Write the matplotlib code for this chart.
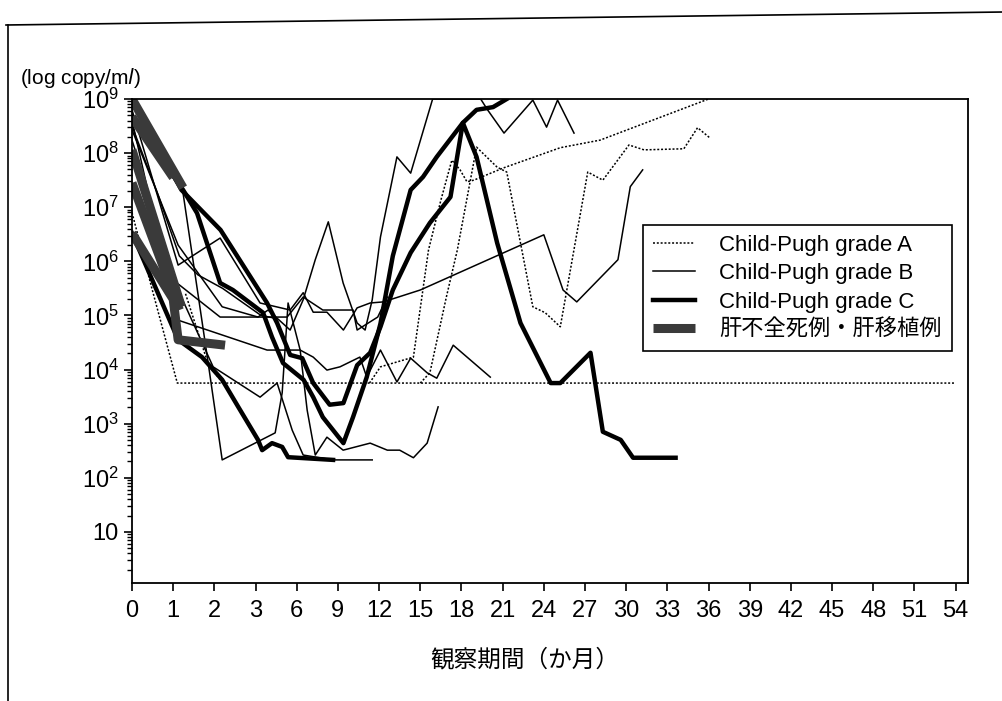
import numpy as np
import matplotlib.pyplot as plt
from matplotlib.lines import Line2D
from matplotlib.ticker import LogLocator, NullFormatter, NullLocator

plt.rcParams['font.family'] = ['Liberation Sans', 'Noto Sans CJK JP']

# months after start / log10(copies per ml)
A1_m = [0, 0.5, 1.1, 54]
A1_v = [6.9, 5.45, 3.75, 3.75]
A2_m = [11.3, 12.1, 14.5, 15.6, 16.5, 17.3, 17.9, 18.4, 18.9, 21.1, 25.2, 28.1, 36.0]
A2_v = [3.75, 4.05, 4.23, 6.21, 7.13, 7.87, 7.69, 7.47, 7.50, 7.73, 8.10, 8.24, 9.0]
A3_m = [15.0, 15.7, 16.9, 17.7, 19.1, 20.6, 21.3, 23.2, 24.1, 25.2, 27.2, 28.3, 30.2, 31.3, 34.2, 35.2, 36.1]
A3_v = [3.75, 3.94, 5.34, 6.21, 8.11, 7.74, 7.65, 5.16, 5.05, 4.79, 7.65, 7.50, 8.15, 8.06, 8.08, 8.47, 8.28]
A4_m = [1.3, 1.85, 2.2]
A4_v = [5.4, 4.1, 3.75]

B1_m = [0, 1.24, 1.85, 2.19, 4.43, 4.94, 5.37, 6.25, 6.76, 7.35, 8.2, 9.38, 11.35, 12.6, 13.5, 14.5, 15.5, 16.3]
B1_v = [8.98, 7.26, 4.12, 2.33, 2.83, 3.57, 5.23, 4.36, 3.25, 2.42, 2.75, 2.51, 2.64, 2.51, 2.51, 2.37, 2.64, 3.31]
B2_m = [0, 1.12, 2.19, 3.18, 3.91, 5.52, 6.47, 7.35, 8.3, 9.38, 10.4, 10.98, 11.5, 12.1, 13.3, 14.3,
        15.9, 19.4, 19.9, 21.1, 23.2, 24.2, 25.0, 26.2]
B2_v = [8.43, 6.30, 5.16, 4.97, 5.10, 4.73, 5.29, 6.03, 6.73, 5.60, 4.86, 4.73, 5.29, 6.45, 7.93, 7.63,
        9.0, 9.0, 8.80, 8.37, 8.98, 8.48, 8.98, 8.37]
B3_m = [0, 1.12, 2.14, 3.33, 5.52, 6.47, 7.2, 8.2, 9.4, 10.4, 11.35, 12.3, 15.0, 24.0, 25.4, 26.4, 29.4, 30.3, 31.2]
B3_v = [8.80, 5.93, 6.43, 5.23, 5.10, 5.42, 5.06, 5.06, 4.73, 5.14, 5.23, 5.25, 5.47, 6.49, 5.47, 5.25, 6.03, 7.38, 7.69]
B4_m = [0, 0.6, 1.15, 1.6, 2.2, 3.4, 4.4]
B4_v = [8.5, 7.3, 6.1, 5.75, 5.5, 5.0, 4.95]
B5_m = [0, 1.09, 3.84, 6.25, 7.2, 8.2, 9.15, 10.6, 11.1, 12.1, 13.3, 14.3, 15.5, 16.2, 17.4, 20.1]
B5_v = [8.61, 4.92, 4.36, 4.36, 4.23, 3.99, 4.05, 4.23, 3.86, 4.36, 3.77, 4.21, 3.94, 3.84, 4.45, 3.86]
B6_m = [0, 1.09, 2.14, 3.55, 5.3, 6.47, 7.9, 10.1, 10.4, 11.9, 12.6]
B6_v = [8.24, 5.60, 4.97, 4.97, 4.97, 5.34, 5.10, 5.10, 4.73, 4.97, 5.34]
B7_m = [0, 1.12, 1.97, 3.33, 4.57, 5.67, 6.47, 8.65, 11.5]
B7_v = [7.87, 5.47, 4.05, 3.49, 3.75, 2.88, 2.42, 2.33, 2.33]

C1_m = [0, 1.2, 2.15, 3.84, 4.57, 5.52, 6.4, 7.2, 8.4, 9.4, 10.4, 11.35, 12.1, 13.0, 14.3, 15.7, 17.2, 18.1,
        19.1, 20.6, 22.3, 24.5, 25.2, 27.4, 28.3, 29.6, 30.5, 33.6]
C1_v = [8.98, 7.32, 6.58, 5.23, 4.86, 4.27, 4.21, 3.75, 3.35, 3.38, 4.08, 4.31, 4.79, 5.47, 6.16, 6.71, 7.19, 8.56,
        7.93, 6.34, 4.86, 3.75, 3.75, 4.31, 2.85, 2.70, 2.37, 2.37]
C2_m = [0, 1.24, 1.58, 2.14, 2.45, 3.55, 4.2, 5.0, 6.5, 7.2, 7.9, 9.4, 10.1, 11.1, 12.1, 13.0, 14.3, 15.2,
        16.2, 18.1, 19.1, 20.3, 21.3]
C2_v = [8.67, 7.32, 6.89, 5.60, 5.47, 5.05, 4.60, 4.12, 3.81, 3.49, 3.12, 2.64, 3.12, 3.86, 4.85, 6.1, 7.32, 7.56,
        7.93, 8.56, 8.80, 8.85, 9.0]
C3_m = [0, 1.12, 1.70, 2.19, 2.58, 3.18, 3.48, 4.2, 4.94, 5.37, 8.65]
C3_v = [6.52, 4.55, 4.23, 3.81, 3.31, 2.70, 2.51, 2.64, 2.57, 2.38, 2.33]

LF1_m = [0, 1.24]
LF1_v = [9.0, 7.36]
LF2_m = [0, 1.0]
LF2_v = [8.67, 7.55]
LF3_m = [0, 1.2]
LF3_v = [8.06, 5.16]
LF4_m = [0, 1.15]
LF4_v = [7.45, 5.1]
LF5_m = [0, 1.0, 1.12, 2.26]
LF5_v = [6.52, 5.3, 4.55, 4.45]

x_ticks = [0, 1, 2] + list(range(3, 55, 3))
legend_labels = ['Child-Pugh grade A', 'Child-Pugh grade B', 'Child-Pugh grade C', '肝不全死例・肝移植例']


def to_pos(m):
    m = np.asarray(m, dtype=float)
    return np.where(m <= 3, m, 3 + (m - 3) / 3)


def to_month(p):
    p = np.asarray(p, dtype=float)
    return np.where(p <= 3, p, 3 + (p - 3) * 3)


fig = plt.figure(figsize=(10.03, 7.01), dpi=100)
ax = fig.add_axes([132 / 1003, 118 / 701, 836 / 1003, 484 / 701])
ax.set_xscale('function', functions=(to_pos, to_month))
ax.set_yscale('log')

dot = (0, (1.3, 1.2))
for m, v in [(A1_m, A1_v), (A2_m, A2_v), (A3_m, A3_v), (A4_m, A4_v)]:
    ax.plot(m, 10 ** np.array(v), color='black', lw=1.1, ls=dot)
for m, v in [(B1_m, B1_v), (B2_m, B2_v), (B3_m, B3_v), (B4_m, B4_v), (B5_m, B5_v), (B6_m, B6_v), (B7_m, B7_v)]:
    ax.plot(m, 10 ** np.array(v), color='black', lw=1.1)
for m, v in [(C1_m, C1_v), (C2_m, C2_v), (C3_m, C3_v)]:
    ax.plot(m, 10 ** np.array(v), color='black', lw=3.2)
for m, v in [(LF1_m, LF1_v), (LF2_m, LF2_v), (LF3_m, LF3_v), (LF4_m, LF4_v), (LF5_m, LF5_v)]:
    ax.plot(m, 10 ** np.array(v), color='#3a3a3a', lw=6.5, solid_capstyle='butt')

ax.set_xlim(0, 54.9)
ax.set_ylim(10 ** 0.055, 1e9)
ax.set_xticks(x_ticks)
ax.set_xticklabels([str(t) for t in x_ticks])
ax.xaxis.set_minor_locator(NullLocator())

ax.set_yticks([10 ** k for k in range(1, 10)])
ax.set_yticklabels(['10'] + [r'$\mathregular{10^{%d}}$' % k for k in range(2, 10)])
ax.yaxis.set_minor_locator(LogLocator(base=10, subs=np.arange(2, 10)))
ax.yaxis.set_minor_formatter(NullFormatter())

ax.tick_params(axis='both', which='major', labelsize=17, direction='out', length=6, width=1.2, colors='black')
ax.tick_params(axis='x', which='major', pad=6)
ax.tick_params(axis='y', which='minor', direction='out', length=3.5, width=1)
for s in ax.spines.values():
    s.set_linewidth(1.3)

handles = [
    Line2D([], [], color='black', lw=1.1, ls=(0, (1.3, 1.2))),
    Line2D([], [], color='black', lw=1.1),
    Line2D([], [], color='black', lw=3.2),
    Line2D([], [], color='#3a3a3a', lw=6.5, solid_capstyle='butt'),
]
leg = ax.legend(handles, legend_labels, loc='upper left', bbox_to_anchor=(0.611, 0.740), borderaxespad=0,
                frameon=True, fancybox=False, edgecolor='black', framealpha=1, fontsize=16,
                handlelength=1.9, handletextpad=1.1, borderpad=0.45, labelspacing=0.33)
leg.get_frame().set_linewidth(1.2)

fig.text(20 / 1003, 1 - 78 / 701, '(log copy/m$\\mathit{l}$)', fontsize=15, ha='left', va='center')
fig.text(525 / 1003, 1 - 660 / 701, '観察期間（か月）', fontsize=17, family='Noto Sans CJK JP',
         ha='center', va='center')

# page frame from the scan
fig.add_artist(Line2D([6 / 1003, 1], [1 - 25 / 701, 1 - 12 / 701], transform=fig.transFigure, color='black', lw=1.2))
fig.add_artist(Line2D([8 / 1003, 8 / 1003], [0, 1 - 25 / 701], transform=fig.transFigure, color='black', lw=1.2))

fig.savefig('out.png', dpi=100)
